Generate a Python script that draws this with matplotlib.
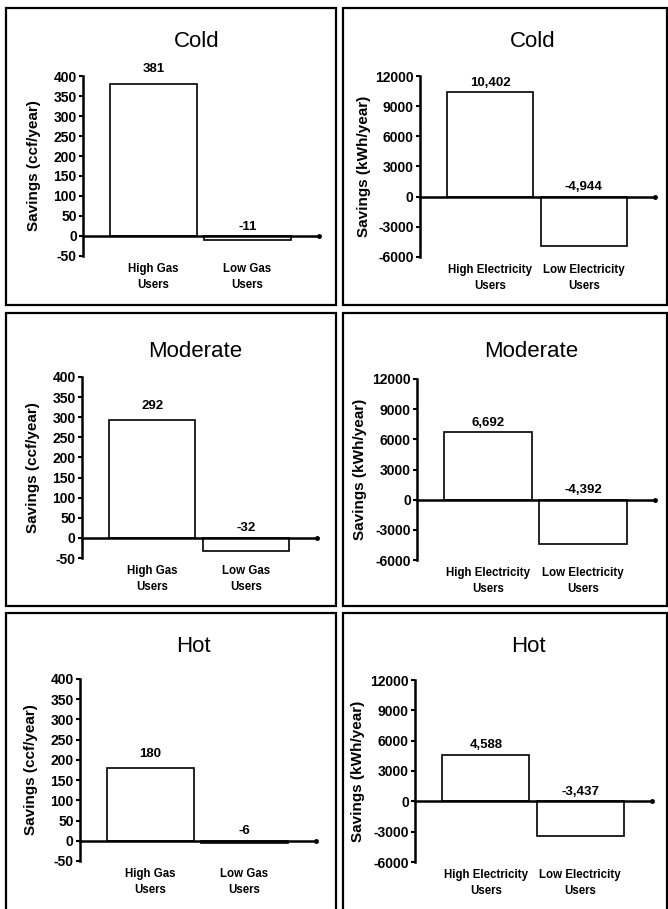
import matplotlib
matplotlib.use("Agg")
import matplotlib.pyplot as plt
from matplotlib.patches import Rectangle
from matplotlib.transforms import blended_transform_factory

plt.rcParams["font.family"] = ["Liberation Sans", "DejaVu Sans"]
plt.rcParams["axes.unicode_minus"] = False

# ---- data ----
regions = ["Cold", "Moderate", "Hot"]
gas_categories = ["High Gas\nUsers", "Low Gas\nUsers"]
elec_categories = ["High Electricity\nUsers", "Low Electricity\nUsers"]
gas_savings = [[381, -11], [292, -32], [180, -6]]
elec_savings = [[10402, -4944], [6692, -4392], [4588, -3437]]
gas_ticks = [-50, 0, 50, 100, 150, 200, 250, 300, 350, 400]
elec_ticks = [-6000, -3000, 0, 3000, 6000, 9000, 12000]

W, H = 668, 909
fig = plt.figure(figsize=(W / 100, H / 100), dpi=100)

# axes boxes in pixels (left, top, right, bottom)
boxes = {
    (0, 0): (83, 76, 319, 256), (0, 1): (420, 76, 655, 257),
    (1, 0): (82, 377, 317, 558), (1, 1): (417, 379, 655, 560),
    (2, 0): (80, 679, 316, 861), (2, 1): (415, 680, 652, 862),
}
title_base = [47, 357, 652]
col_frames = [(6, 336), (343, 667)]
row_frames = [(8, 305), (313, 606), (613, 915)]


def px_axes(l, t, r, b):
    return fig.add_axes([l / W, 1 - b / H, (r - l) / W, (b - t) / H])


for i, region in enumerate(regions):
    for j in range(2):
        # panel frame
        x0, x1 = col_frames[j]
        y0, y1 = row_frames[i]
        fig.patches.append(Rectangle((x0 / W, 1 - y1 / H), (x1 - x0) / W, (y1 - y0) / H,
                                     transform=fig.transFigure, fill=False,
                                     edgecolor="black", linewidth=1.6))

        l, t, r, b = boxes[(i, j)]
        ax = px_axes(l, t, r, b)
        if j == 0:
            vals, cats, ticks = gas_savings[i], gas_categories, gas_ticks
            ylab = "Savings (ccf/year)"
        else:
            vals, cats, ticks = elec_savings[i], elec_categories, elec_ticks
            ylab = "Savings (kWh/year)"

        xs = list(range(len(vals)))
        ax.bar(xs, vals, width=0.92, color="white", edgecolor="black", linewidth=1.2, zorder=2)
        ax.set_xlim(-0.75, 1.76)
        ax.set_ylim(ticks[0], ticks[-1])
        ax.set_yticks(ticks)
        ax.set_xticks([])

        for s in ["top", "right"]:
            ax.spines[s].set_visible(False)
        ax.spines["bottom"].set_position(("data", 0))
        ax.spines["bottom"].set_linewidth(1.8)
        ax.spines["bottom"].set_zorder(3)
        ax.spines["left"].set_linewidth(1.8)
        ax.tick_params(axis="y", direction="out", length=3, width=1.5, pad=1.5,
                       labelsize=10)
        for lab in ax.get_yticklabels():
            lab.set_fontweight("bold")
        ax.plot([ax.get_xlim()[1]], [0], marker="o", ms=2.5, color="black",
                clip_on=False, zorder=4)

        ax.set_ylabel(ylab, fontsize=11, fontweight="bold")
        ax.yaxis.set_label_coords(-0.18 if j == 0 else -0.21, 0.5)

        # value labels
        for x, v in zip(xs, vals):
            off = 6 if (j == 0 and v > 0) else 2.5
            ax.annotate(f"{v:,}", xy=(x, max(v, 0)), xytext=(0, off),
                        textcoords="offset points", ha="center", va="bottom",
                        fontsize=9.5, fontweight="bold")

        # category labels
        trans = blended_transform_factory(ax.transData, ax.transAxes)
        for x, c in zip(xs, cats):
            ax.text(x, -0.04, c, transform=trans, ha="center", va="top",
                    fontsize=8.3, fontweight="bold", linespacing=1.45)

        ax.text(0.48, 1 + (t - title_base[i]) / (b - t), region, transform=ax.transAxes,
                ha="center", va="baseline", fontsize=16)

fig.savefig("out.png", dpi=100)
